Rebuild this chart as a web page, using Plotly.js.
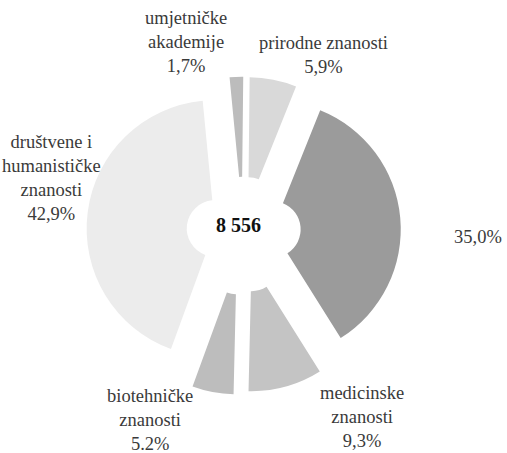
<!DOCTYPE html>
<html>
<head>
<meta charset="utf-8">
<script src="https://cdn.plot.ly/plotly-3.0.1.min.js"></script>
<style>html,body{margin:0;padding:0;background:#fff;}#chart{width:507px;height:453px;}</style>
</head>
<body>
<div id="chart"></div>
<script>
// Data
const categories = ["umjetničke<br>akademije", "prirodne znanosti", "tehničke znanosti", "medicinske<br>znanosti", "biotehničke<br>znanosti", "društvene i<br>humanističke<br>znanosti"];
const shares = [1.7, 5.9, 35.0, 9.3, 5.2, 42.9];
const shareLabels = ["1,7%", "5,9%", "35,0%", "9,3%", "5.2%", "42,9%"];
const showName = [true, true, false, true, true, true];
const total = "8 556";

// Styling / layout (not data)
const colors = ["#bcbcbc", "#d9d9d9", "#9b9b9b", "#c4c4c4", "#bdbdbd", "#ececec"];
const pulls = [0.21, 0.21, 0.23, 0.25, 0.27, 0.22];
const labelPos = [[186, 42], [323, 55], [478, 237], [362, 417], [150, 420], [51, 178]];
const serif = "Liberation Serif";

const W = 507, H = 453;
const annotations = categories.map((c, i) => ({
  xref: 'paper', yref: 'paper',
  x: labelPos[i][0] / W, y: 1 - labelPos[i][1] / H,
  xanchor: 'center', yanchor: 'middle',
  text: (showName[i] ? c + '<br>' : '') + shareLabels[i],
  showarrow: false,
  font: {family: serif, size: 18.5, color: '#3a3a3a'}
}));
annotations.push({
  xref: 'paper', yref: 'paper', x: 238 / W, y: 1 - 225 / H,
  xanchor: 'center', yanchor: 'middle', text: '<b>' + total + '</b>', showarrow: false,
  font: {family: serif, size: 20, color: '#111'}
});

const cx = 243, cy = 232, half = 163;
Plotly.newPlot('chart', [{
  type: 'pie',
  labels: categories,
  values: shares,
  sort: false,
  direction: 'clockwise',
  rotation: -5.5,
  hole: 0.22,
  pull: pulls,
  marker: {colors: colors, line: {width: 0}},
  textinfo: 'none',
  hoverinfo: 'none',
  domain: {x: [(cx - half) / W, (cx + half) / W], y: [(H - cy - half) / H, (H - cy + half) / H]}
}], {
  width: W, height: H,
  margin: {l: 0, r: 0, t: 0, b: 0},
  showlegend: false,
  paper_bgcolor: '#fff',
  font: {family: serif},
  annotations: annotations
}, {staticPlot: true});
</script>
</body>
</html>
